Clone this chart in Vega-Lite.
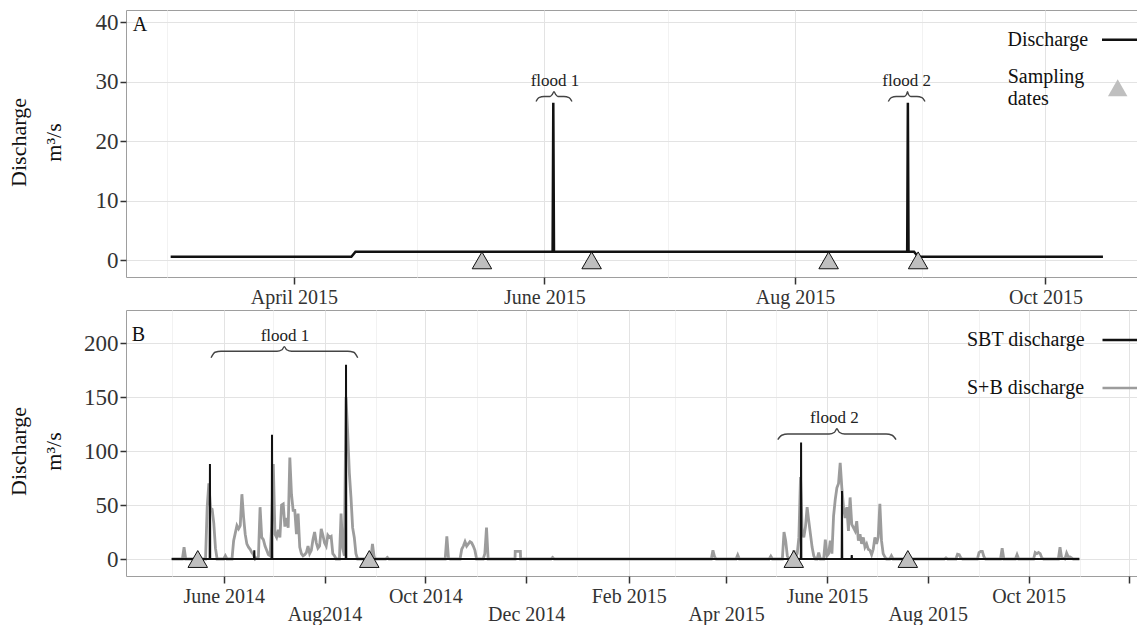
{
  "$schema": "https://vega.github.io/schema/vega-lite/v6.json",
  "background": "white",
  "padding": {"left": 6, "top": 9, "right": 0, "bottom": 0},
  "spacing": 33,
  "bounds": "flush",
  "resolve": {"scale": {"color": "independent", "shape": "independent"}, "legend": {"color": "independent", "shape": "independent"}},
  "config": {
    "font": "Liberation Serif",
    "view": {"stroke": "#9e9e9e", "strokeWidth": 1},
    "axis": {
      "labelFont": "Liberation Serif",
      "labelColor": "#333333",
      "labelFontSize": 20,
      "tickColor": "#333333",
      "tickWidth": 1.5,
      "domain": false,
      "titleFont": "Liberation Serif",
      "titleFontSize": 22,
      "titleFontWeight": "normal",
      "titleColor": "#111111",
      "labelOverlap": false,
      "labelFlush": false,
      "gridWidth": 1
    },
    "legend": {
      "labelFont": "Liberation Serif",
      "labelFontSize": 20,
      "labelColor": "#111111",
      "padding": 0
    }
  },
  "datasets": {
    "dischargeA": [
      {"date": "2015-03-02T00:00", "q": 0.6},
      {"date": "2015-04-15T00:00", "q": 0.6},
      {"date": "2015-04-16T00:00", "q": 1.45},
      {"date": "2015-06-03T00:00", "q": 1.45},
      {"date": "2015-06-03T04:00", "q": 26.5},
      {"date": "2015-06-03T08:00", "q": 1.45},
      {"date": "2015-08-28T08:00", "q": 1.45},
      {"date": "2015-08-28T12:00", "q": 26.5},
      {"date": "2015-08-28T16:00", "q": 1.45},
      {"date": "2015-08-30T00:00", "q": 1.45},
      {"date": "2015-08-31T00:00", "q": 0.6},
      {"date": "2015-10-15T00:00", "q": 0.6}
    ],
    "samplesA": [
      {"date": "2015-05-16T19:00", "q": 0},
      {"date": "2015-06-12T12:00", "q": 0},
      {"date": "2015-08-09T05:00", "q": 0},
      {"date": "2015-08-31T00:00", "q": 0}
    ],
    "bracesA": [
      {"brace": "flood 1", "date": "2015-05-29T23:00", "q": 26.69},
      {"brace": "flood 1", "date": "2015-05-30T16:00", "q": 27.36},
      {"brace": "flood 1", "date": "2015-05-31T22:00", "q": 27.53},
      {"brace": "flood 1", "date": "2015-06-02T09:00", "q": 27.53},
      {"brace": "flood 1", "date": "2015-06-02T22:00", "q": 27.87},
      {"brace": "flood 1", "date": "2015-06-03T08:00", "q": 28.34},
      {"brace": "flood 1", "date": "2015-06-03T18:00", "q": 27.87},
      {"brace": "flood 1", "date": "2015-06-04T07:00", "q": 27.53},
      {"brace": "flood 1", "date": "2015-06-05T18:00", "q": 27.53},
      {"brace": "flood 1", "date": "2015-06-07T00:00", "q": 27.36},
      {"brace": "flood 1", "date": "2015-06-07T17:00", "q": 26.69},
      {"brace": "flood 2", "date": "2015-08-23T17:30", "q": 26.69},
      {"brace": "flood 2", "date": "2015-08-24T11:00", "q": 27.36},
      {"brace": "flood 2", "date": "2015-08-25T16:00", "q": 27.53},
      {"brace": "flood 2", "date": "2015-08-27T14:30", "q": 27.53},
      {"brace": "flood 2", "date": "2015-08-28T04:00", "q": 27.87},
      {"brace": "flood 2", "date": "2015-08-28T10:00", "q": 28.34},
      {"brace": "flood 2", "date": "2015-08-28T15:30", "q": 27.87},
      {"brace": "flood 2", "date": "2015-08-29T05:00", "q": 27.53},
      {"brace": "flood 2", "date": "2015-08-30T17:00", "q": 27.53},
      {"brace": "flood 2", "date": "2015-08-31T22:30", "q": 27.36},
      {"brace": "flood 2", "date": "2015-09-01T16:00", "q": 26.69}
    ],
    "labelsA": [
      {"date": "2015-06-03T14:00", "q": 30.1, "text": "flood 1"},
      {"date": "2015-08-28T05:00", "q": 30.1, "text": "flood 2"}
    ],
    "panelA": [
      {"date": "2015-02-20T18:00", "q": 39.55, "text": "A"}
    ],
    "sbt": [
      {"date": "2014-04-30T12:00", "q": 0},
      {"date": "2014-05-23T12:00", "q": 0},
      {"date": "2014-05-23T16:00", "q": 88},
      {"date": "2014-05-23T20:00", "q": 0},
      {"date": "2014-06-19T08:00", "q": 0},
      {"date": "2014-06-19T12:00", "q": 8},
      {"date": "2014-06-19T16:00", "q": 0},
      {"date": "2014-06-30T01:00", "q": 0},
      {"date": "2014-06-30T05:00", "q": 115},
      {"date": "2014-06-30T09:00", "q": 0},
      {"date": "2014-08-13T20:00", "q": 0},
      {"date": "2014-08-14T00:00", "q": 180},
      {"date": "2014-08-14T04:00", "q": 0},
      {"date": "2015-05-16T04:00", "q": 0},
      {"date": "2015-05-16T08:00", "q": 108},
      {"date": "2015-05-16T12:00", "q": 0},
      {"date": "2015-06-09T22:00", "q": 0},
      {"date": "2015-06-10T02:00", "q": 63},
      {"date": "2015-06-10T06:00", "q": 0},
      {"date": "2015-06-15T20:00", "q": 0},
      {"date": "2015-06-16T00:00", "q": 3.7},
      {"date": "2015-06-16T04:00", "q": 0},
      {"date": "2015-10-31T17:00", "q": 0}
    ],
    "sb": [
      {"date": "2014-04-30T12:00", "q": 0},
      {"date": "2014-05-07T00:00", "q": 0},
      {"date": "2014-05-08T00:00", "q": 11},
      {"date": "2014-05-09T00:00", "q": 0},
      {"date": "2014-05-21T00:00", "q": 0},
      {"date": "2014-05-22T00:00", "q": 48},
      {"date": "2014-05-23T00:00", "q": 70},
      {"date": "2014-05-24T00:00", "q": 47},
      {"date": "2014-05-25T00:00", "q": 46},
      {"date": "2014-05-26T00:00", "q": 33},
      {"date": "2014-05-27T00:00", "q": 10},
      {"date": "2014-05-28T00:00", "q": 0},
      {"date": "2014-06-01T00:00", "q": 0},
      {"date": "2014-06-02T00:00", "q": 3},
      {"date": "2014-06-03T00:00", "q": 0},
      {"date": "2014-06-06T00:00", "q": 0},
      {"date": "2014-06-07T00:00", "q": 17},
      {"date": "2014-06-08T00:00", "q": 24},
      {"date": "2014-06-09T00:00", "q": 31},
      {"date": "2014-06-10T00:00", "q": 28},
      {"date": "2014-06-11T00:00", "q": 31},
      {"date": "2014-06-12T00:00", "q": 60},
      {"date": "2014-06-13T00:00", "q": 39},
      {"date": "2014-06-14T00:00", "q": 23},
      {"date": "2014-06-15T00:00", "q": 14},
      {"date": "2014-06-16T00:00", "q": 11},
      {"date": "2014-06-17T00:00", "q": 9},
      {"date": "2014-06-18T00:00", "q": 6},
      {"date": "2014-06-19T00:00", "q": 4},
      {"date": "2014-06-20T00:00", "q": 0},
      {"date": "2014-06-22T00:00", "q": 2},
      {"date": "2014-06-23T00:00", "q": 48},
      {"date": "2014-06-24T00:00", "q": 20},
      {"date": "2014-06-25T00:00", "q": 18},
      {"date": "2014-06-26T00:00", "q": 12},
      {"date": "2014-06-27T00:00", "q": 8},
      {"date": "2014-06-28T00:00", "q": 4},
      {"date": "2014-06-29T00:00", "q": 3},
      {"date": "2014-06-30T00:00", "q": 30},
      {"date": "2014-07-01T00:00", "q": 88},
      {"date": "2014-07-02T00:00", "q": 23},
      {"date": "2014-07-03T00:00", "q": 20},
      {"date": "2014-07-04T00:00", "q": 27},
      {"date": "2014-07-05T00:00", "q": 20},
      {"date": "2014-07-06T00:00", "q": 50},
      {"date": "2014-07-07T00:00", "q": 51},
      {"date": "2014-07-08T00:00", "q": 30},
      {"date": "2014-07-09T00:00", "q": 38},
      {"date": "2014-07-10T00:00", "q": 29},
      {"date": "2014-07-11T00:00", "q": 94},
      {"date": "2014-07-12T00:00", "q": 60},
      {"date": "2014-07-13T00:00", "q": 45},
      {"date": "2014-07-14T00:00", "q": 45},
      {"date": "2014-07-15T00:00", "q": 23},
      {"date": "2014-07-16T00:00", "q": 42},
      {"date": "2014-07-17T00:00", "q": 11},
      {"date": "2014-07-18T00:00", "q": 5},
      {"date": "2014-07-19T00:00", "q": 3},
      {"date": "2014-07-20T00:00", "q": 4},
      {"date": "2014-07-21T00:00", "q": 6},
      {"date": "2014-07-22T00:00", "q": 12},
      {"date": "2014-07-23T00:00", "q": 5},
      {"date": "2014-07-24T00:00", "q": 8},
      {"date": "2014-07-25T00:00", "q": 18},
      {"date": "2014-07-26T00:00", "q": 25},
      {"date": "2014-07-27T00:00", "q": 15},
      {"date": "2014-07-28T00:00", "q": 10},
      {"date": "2014-07-29T00:00", "q": 12},
      {"date": "2014-07-30T00:00", "q": 28},
      {"date": "2014-07-31T00:00", "q": 22},
      {"date": "2014-08-01T00:00", "q": 15},
      {"date": "2014-08-02T00:00", "q": 12},
      {"date": "2014-08-03T00:00", "q": 22},
      {"date": "2014-08-04T00:00", "q": 20},
      {"date": "2014-08-05T00:00", "q": 21},
      {"date": "2014-08-06T00:00", "q": 5},
      {"date": "2014-08-07T00:00", "q": 3},
      {"date": "2014-08-08T00:00", "q": 0},
      {"date": "2014-08-10T00:00", "q": 0},
      {"date": "2014-08-11T00:00", "q": 42},
      {"date": "2014-08-12T00:00", "q": 10},
      {"date": "2014-08-13T00:00", "q": 3},
      {"date": "2014-08-14T00:00", "q": 150},
      {"date": "2014-08-15T00:00", "q": 117},
      {"date": "2014-08-16T00:00", "q": 80},
      {"date": "2014-08-17T00:00", "q": 57},
      {"date": "2014-08-18T00:00", "q": 29},
      {"date": "2014-08-19T00:00", "q": 20},
      {"date": "2014-08-20T00:00", "q": 5},
      {"date": "2014-08-21T00:00", "q": 0},
      {"date": "2014-08-29T00:00", "q": 0},
      {"date": "2014-08-30T00:00", "q": 14},
      {"date": "2014-08-31T00:00", "q": 2},
      {"date": "2014-09-01T00:00", "q": 0},
      {"date": "2014-09-07T00:00", "q": 0},
      {"date": "2014-09-08T00:00", "q": 1.5},
      {"date": "2014-09-09T00:00", "q": 0},
      {"date": "2014-10-13T00:00", "q": 0},
      {"date": "2014-10-14T00:00", "q": 21},
      {"date": "2014-10-15T00:00", "q": 1},
      {"date": "2014-10-16T00:00", "q": 0},
      {"date": "2014-10-22T00:00", "q": 0},
      {"date": "2014-10-23T00:00", "q": 9},
      {"date": "2014-10-24T00:00", "q": 12},
      {"date": "2014-10-25T00:00", "q": 16},
      {"date": "2014-10-26T00:00", "q": 12},
      {"date": "2014-10-27T00:00", "q": 14},
      {"date": "2014-10-28T00:00", "q": 16},
      {"date": "2014-10-29T00:00", "q": 15},
      {"date": "2014-10-30T00:00", "q": 12},
      {"date": "2014-10-31T00:00", "q": 8},
      {"date": "2014-11-01T00:00", "q": 0},
      {"date": "2014-11-05T00:00", "q": 0},
      {"date": "2014-11-06T00:00", "q": 5},
      {"date": "2014-11-07T00:00", "q": 29},
      {"date": "2014-11-08T00:00", "q": 0},
      {"date": "2014-11-24T06:00", "q": 0},
      {"date": "2014-11-24T09:00", "q": 7},
      {"date": "2014-11-27T12:00", "q": 7},
      {"date": "2014-11-27T15:00", "q": 0},
      {"date": "2014-12-16T00:00", "q": 0},
      {"date": "2014-12-17T00:00", "q": 1.5},
      {"date": "2014-12-18T00:00", "q": 0},
      {"date": "2015-03-23T00:00", "q": 0},
      {"date": "2015-03-24T00:00", "q": 8},
      {"date": "2015-03-25T00:00", "q": 2},
      {"date": "2015-03-26T00:00", "q": 0},
      {"date": "2015-04-07T00:00", "q": 0},
      {"date": "2015-04-08T00:00", "q": 3.7},
      {"date": "2015-04-09T00:00", "q": 0},
      {"date": "2015-04-27T00:00", "q": 0},
      {"date": "2015-04-28T00:00", "q": 2.5},
      {"date": "2015-04-29T00:00", "q": 0},
      {"date": "2015-05-05T00:00", "q": 0},
      {"date": "2015-05-06T00:00", "q": 25},
      {"date": "2015-05-07T00:00", "q": 17},
      {"date": "2015-05-08T00:00", "q": 3},
      {"date": "2015-05-09T00:00", "q": 0},
      {"date": "2015-05-11T00:00", "q": 0},
      {"date": "2015-05-12T00:00", "q": 8},
      {"date": "2015-05-13T00:00", "q": 2},
      {"date": "2015-05-14T00:00", "q": 5},
      {"date": "2015-05-15T00:00", "q": 20},
      {"date": "2015-05-16T00:00", "q": 76},
      {"date": "2015-05-17T00:00", "q": 26},
      {"date": "2015-05-18T00:00", "q": 20},
      {"date": "2015-05-19T00:00", "q": 30},
      {"date": "2015-05-20T00:00", "q": 48},
      {"date": "2015-05-21T00:00", "q": 35},
      {"date": "2015-05-22T00:00", "q": 23},
      {"date": "2015-05-23T00:00", "q": 11},
      {"date": "2015-05-24T00:00", "q": 3},
      {"date": "2015-05-25T00:00", "q": 0},
      {"date": "2015-05-26T00:00", "q": 0},
      {"date": "2015-05-27T00:00", "q": 6},
      {"date": "2015-05-28T00:00", "q": 0},
      {"date": "2015-05-30T00:00", "q": 0},
      {"date": "2015-05-31T00:00", "q": 18},
      {"date": "2015-06-01T00:00", "q": 3},
      {"date": "2015-06-02T00:00", "q": 5},
      {"date": "2015-06-03T00:00", "q": 17},
      {"date": "2015-06-04T00:00", "q": 5},
      {"date": "2015-06-05T00:00", "q": 40},
      {"date": "2015-06-06T00:00", "q": 55},
      {"date": "2015-06-07T00:00", "q": 66},
      {"date": "2015-06-08T00:00", "q": 70},
      {"date": "2015-06-09T00:00", "q": 89},
      {"date": "2015-06-10T00:00", "q": 66},
      {"date": "2015-06-11T00:00", "q": 48},
      {"date": "2015-06-12T00:00", "q": 38},
      {"date": "2015-06-13T00:00", "q": 48},
      {"date": "2015-06-14T00:00", "q": 26},
      {"date": "2015-06-15T00:00", "q": 57},
      {"date": "2015-06-16T00:00", "q": 32},
      {"date": "2015-06-17T00:00", "q": 29},
      {"date": "2015-06-18T00:00", "q": 26},
      {"date": "2015-06-19T00:00", "q": 35},
      {"date": "2015-06-20T00:00", "q": 17},
      {"date": "2015-06-21T00:00", "q": 23},
      {"date": "2015-06-22T00:00", "q": 14},
      {"date": "2015-06-23T00:00", "q": 20},
      {"date": "2015-06-24T00:00", "q": 11},
      {"date": "2015-06-25T00:00", "q": 14},
      {"date": "2015-06-26T00:00", "q": 9},
      {"date": "2015-06-27T00:00", "q": 8},
      {"date": "2015-06-28T00:00", "q": 4},
      {"date": "2015-06-29T00:00", "q": 9},
      {"date": "2015-06-30T00:00", "q": 20},
      {"date": "2015-07-01T00:00", "q": 14},
      {"date": "2015-07-02T00:00", "q": 20},
      {"date": "2015-07-03T00:00", "q": 51},
      {"date": "2015-07-04T00:00", "q": 17},
      {"date": "2015-07-05T00:00", "q": 5},
      {"date": "2015-07-06T00:00", "q": 2},
      {"date": "2015-07-07T00:00", "q": 0},
      {"date": "2015-07-09T00:00", "q": 0},
      {"date": "2015-07-10T00:00", "q": 3},
      {"date": "2015-07-11T00:00", "q": 0},
      {"date": "2015-08-11T00:00", "q": 0},
      {"date": "2015-08-12T00:00", "q": 1},
      {"date": "2015-08-13T00:00", "q": 0},
      {"date": "2015-08-18T00:00", "q": 0},
      {"date": "2015-08-19T00:00", "q": 4.5},
      {"date": "2015-08-20T00:00", "q": 4},
      {"date": "2015-08-21T00:00", "q": 1},
      {"date": "2015-08-22T00:00", "q": 0},
      {"date": "2015-08-31T00:00", "q": 0},
      {"date": "2015-09-01T00:00", "q": 6},
      {"date": "2015-09-02T00:00", "q": 7},
      {"date": "2015-09-03T00:00", "q": 7},
      {"date": "2015-09-04T00:00", "q": 2},
      {"date": "2015-09-05T00:00", "q": 0},
      {"date": "2015-09-14T00:00", "q": 0},
      {"date": "2015-09-15T00:00", "q": 10},
      {"date": "2015-09-16T00:00", "q": 0},
      {"date": "2015-09-23T00:00", "q": 0},
      {"date": "2015-09-24T00:00", "q": 4},
      {"date": "2015-09-25T00:00", "q": 0},
      {"date": "2015-10-04T00:00", "q": 0},
      {"date": "2015-10-05T00:00", "q": 6},
      {"date": "2015-10-06T00:00", "q": 5},
      {"date": "2015-10-07T00:00", "q": 6},
      {"date": "2015-10-08T00:00", "q": 5},
      {"date": "2015-10-09T00:00", "q": 1},
      {"date": "2015-10-10T00:00", "q": 0},
      {"date": "2015-10-19T00:00", "q": 0},
      {"date": "2015-10-20T00:00", "q": 11},
      {"date": "2015-10-21T00:00", "q": 1},
      {"date": "2015-10-23T00:00", "q": 0},
      {"date": "2015-10-24T00:00", "q": 5.5},
      {"date": "2015-10-25T00:00", "q": 2},
      {"date": "2015-10-26T00:00", "q": 2},
      {"date": "2015-10-27T00:00", "q": 1},
      {"date": "2015-10-28T00:00", "q": 0},
      {"date": "2015-10-31T17:00", "q": 0}
    ],
    "samplesB": [
      {"date": "2014-05-16T07:00", "q": 0},
      {"date": "2014-08-28T02:00", "q": 0},
      {"date": "2015-05-11T22:00", "q": 0},
      {"date": "2015-07-19T22:00", "q": 0}
    ],
    "bracesB": [
      {"brace": "flood 1", "date": "2014-05-24T08:00", "q": 186.4},
      {"brace": "flood 1", "date": "2014-05-26T18:00", "q": 191.5},
      {"brace": "flood 1", "date": "2014-05-30T09:00", "q": 192.4},
      {"brace": "flood 1", "date": "2014-07-03T06:00", "q": 192.4},
      {"brace": "flood 1", "date": "2014-07-06T07:00", "q": 193.8},
      {"brace": "flood 1", "date": "2014-07-07T16:00", "q": 196.6},
      {"brace": "flood 1", "date": "2014-07-09T01:00", "q": 193.8},
      {"brace": "flood 1", "date": "2014-07-12T02:00", "q": 192.4},
      {"brace": "flood 1", "date": "2014-08-15T01:00", "q": 192.4},
      {"brace": "flood 1", "date": "2014-08-18T16:00", "q": 191.5},
      {"brace": "flood 1", "date": "2014-08-21T02:00", "q": 186.4},
      {"brace": "flood 2", "date": "2015-05-02T05:30", "q": 110.5},
      {"brace": "flood 2", "date": "2015-05-04T15:30", "q": 114.6},
      {"brace": "flood 2", "date": "2015-05-08T07:00", "q": 115.7},
      {"brace": "flood 2", "date": "2015-06-02T06:30", "q": 115.7},
      {"brace": "flood 2", "date": "2015-06-05T14:00", "q": 117.4},
      {"brace": "flood 2", "date": "2015-06-07T00:00", "q": 120.6},
      {"brace": "flood 2", "date": "2015-06-08T10:00", "q": 117.4},
      {"brace": "flood 2", "date": "2015-06-11T17:00", "q": 115.7},
      {"brace": "flood 2", "date": "2015-07-06T19:00", "q": 115.7},
      {"brace": "flood 2", "date": "2015-07-10T10:00", "q": 114.6},
      {"brace": "flood 2", "date": "2015-07-12T19:00", "q": 110.5}
    ],
    "labelsB": [
      {"date": "2014-07-08T02:00", "q": 206.8, "text": "flood 1"},
      {"date": "2015-06-05T12:00", "q": 130.8, "text": "flood 2"}
    ],
    "panelB": [
      {"date": "2014-04-06T08:00", "q": 207.7, "text": "B"}
    ]
  },
  "vconcat": [
    {
      "width": 1011,
      "height": 267,
      "layer": [
        {
          "data": {"name": "dischargeA"},
          "mark": {"type": "line", "strokeWidth": 2.5},
          "encoding": {
            "x": {
              "field": "date",
              "type": "temporal",
              "scale": {"domain": [{"year": 2015, "month": 2, "date": 19, "hours": 3}, {"year": 2015, "month": 10, "date": 23, "hours": 7}]},
              "axis": {
                "title": null,
                "values": [
                  {"year": 2015, "month": 3, "date": 1},
                  {"year": 2015, "month": 4, "date": 1},
                  {"year": 2015, "month": 5, "date": 1},
                  {"year": 2015, "month": 6, "date": 1},
                  {"year": 2015, "month": 7, "date": 1},
                  {"year": 2015, "month": 8, "date": 1},
                  {"year": 2015, "month": 9, "date": 1},
                  {"year": 2015, "month": 10, "date": 1}
                ],
                "labelExpr": "month(datum.value) == 3 ? 'April 2015' : month(datum.value) == 5 ? 'June 2015' : month(datum.value) == 7 ? 'Aug 2015' : month(datum.value) == 9 ? 'Oct 2015' : ''",
                "tickSize": 7,
                "labelPadding": 3,
                "tickOpacity": {"condition": {"test": "month(datum.value) % 2 == 1", "value": 1}, "value": 0},
                "gridColor": {"condition": {"test": "month(datum.value) % 2 == 1", "value": "#e3e3e3"}, "value": "#f2f2f2"}
              }
            },
            "y": {
              "field": "q",
              "type": "quantitative",
              "scale": {"domain": [-2.8, 42.07], "nice": false, "zero": false},
              "axis": {
                "values": [0, 5, 10, 15, 20, 25, 30, 35, 40],
                "labelExpr": "datum.value % 10 == 0 ? datum.label : ''",
                "labelFontSize": 23,
                "tickSize": 6,
                "labelPadding": 2,
                "tickOpacity": {"condition": {"test": "datum.value % 10 == 0", "value": 1}, "value": 0},
                "gridColor": {"condition": {"test": "datum.value % 10 == 0", "value": "#e3e3e3"}, "value": "#f2f2f2"},
                "title": ["Discharge", "m³/s"],
                "titleAngle": 270,
                "titleX": -108,
                "titleY": 132,
                "titleAlign": "center",
                "titleBaseline": "middle",
                "titleLineHeight": 35
              }
            },
            "color": {
              "datum": "Discharge",
              "scale": {"domain": ["Discharge"], "range": ["#111111"]},
              "legend": {
                "title": null,
                "orient": "none",
                "legendX": 974.5,
                "legendY": 10.7,
                "symbolType": "stroke",
                "symbolSize": 1225,
                "symbolStrokeWidth": 2.5,
                "labelAlign": "left",
                "labelOffset": -131
              }
            }
          }
        },
        {
          "data": {"name": "bracesA"},
          "mark": {"type": "line", "interpolate": "monotone", "stroke": "#444444", "strokeWidth": 1.4},
          "encoding": {
            "x": {"field": "date", "type": "temporal"},
            "y": {"field": "q", "type": "quantitative"},
            "detail": {"field": "brace"}
          }
        },
        {
          "data": {"name": "labelsA"},
          "mark": {"type": "text", "font": "Liberation Serif", "fontSize": 17, "color": "#222222", "baseline": "middle", "align": "center"},
          "encoding": {
            "x": {"field": "date", "type": "temporal"},
            "y": {"field": "q", "type": "quantitative"},
            "text": {"field": "text"}
          }
        },
        {
          "data": {"name": "panelA"},
          "mark": {"type": "text", "font": "Liberation Serif", "fontSize": 20, "color": "#111111", "baseline": "middle", "align": "left"},
          "encoding": {
            "x": {"field": "date", "type": "temporal"},
            "y": {"field": "q", "type": "quantitative"},
            "text": {"field": "text"}
          }
        },
        {
          "data": {"name": "samplesA"},
          "mark": {"type": "point", "filled": false, "size": 380, "fill": "#bfbfbf", "fillOpacity": 1, "stroke": "#111111", "strokeWidth": 1, "opacity": 1},
          "encoding": {
            "x": {"field": "date", "type": "temporal"},
            "y": {"field": "q", "type": "quantitative"},
            "shape": {
              "datum": "Sampling dates",
              "scale": {"domain": ["Sampling dates"], "range": ["triangle-up"]},
              "legend": {
                "title": null,
                "orient": "none",
                "legendX": 981.2,
                "legendY": 67.2,
                "symbolSize": 380,
                "symbolStrokeWidth": 1.2,
                "symbolFillColor": "#bfbfbf",
                "symbolStrokeColor": "#111111",
                "symbolOpacity": 1,
                "labelAlign": "left",
                "labelBaseline": "line-bottom",
                "labelOffset": -120.5,
                "labelExpr": "['Sampling', 'dates']"
              }
            }
          }
        }
      ]
    },
    {
      "width": 1011,
      "height": 266,
      "layer": [
        {
          "data": {"name": "sb"},
          "mark": {"type": "line", "strokeWidth": 2.8},
          "encoding": {
            "x": {
              "field": "date",
              "type": "temporal",
              "scale": {"domain": [{"year": 2014, "month": 4, "date": 2, "hours": 21}, {"year": 2015, "month": 12, "date": 5, "hours": 14}]},
              "axis": {
                "title": null,
                "values": [
                  {"year": 2014, "month": 5, "date": 1},
                  {"year": 2014, "month": 6, "date": 1},
                  {"year": 2014, "month": 7, "date": 1},
                  {"year": 2014, "month": 8, "date": 1},
                  {"year": 2014, "month": 9, "date": 1},
                  {"year": 2014, "month": 10, "date": 1},
                  {"year": 2014, "month": 11, "date": 1},
                  {"year": 2014, "month": 12, "date": 1},
                  {"year": 2015, "month": 1, "date": 1},
                  {"year": 2015, "month": 2, "date": 1},
                  {"year": 2015, "month": 3, "date": 1},
                  {"year": 2015, "month": 4, "date": 1},
                  {"year": 2015, "month": 5, "date": 1},
                  {"year": 2015, "month": 6, "date": 1},
                  {"year": 2015, "month": 7, "date": 1},
                  {"year": 2015, "month": 8, "date": 1},
                  {"year": 2015, "month": 9, "date": 1},
                  {"year": 2015, "month": 10, "date": 1},
                  {"year": 2015, "month": 11, "date": 1},
                  {"year": 2015, "month": 12, "date": 1}
                ],
                "labelExpr": "timeFormat(datum.value, '%Y%m') == '201406' ? 'June 2014' : timeFormat(datum.value, '%Y%m') == '201408' ? ['', 'Aug2014'] : timeFormat(datum.value, '%Y%m') == '201410' ? 'Oct 2014' : timeFormat(datum.value, '%Y%m') == '201412' ? ['', 'Dec 2014'] : timeFormat(datum.value, '%Y%m') == '201502' ? 'Feb 2015' : timeFormat(datum.value, '%Y%m') == '201504' ? ['', 'Apr 2015'] : timeFormat(datum.value, '%Y%m') == '201506' ? 'June 2015' : timeFormat(datum.value, '%Y%m') == '201508' ? ['', 'Aug 2015'] : timeFormat(datum.value, '%Y%m') == '201510' ? 'Oct 2015' : ''",
                "labelLineHeight": 18,
                "tickSize": 7,
                "labelPadding": 3,
                "tickOpacity": {"condition": {"test": "month(datum.value) % 2 == 1", "value": 1}, "value": 0},
                "gridColor": {"condition": {"test": "month(datum.value) % 2 == 1", "value": "#e3e3e3"}, "value": "#f2f2f2"}
              }
            },
            "y": {
              "field": "q",
              "type": "quantitative",
              "scale": {"domain": [-15.74, 230.6], "nice": false, "zero": false},
              "axis": {
                "values": [0, 25, 50, 75, 100, 125, 150, 175, 200, 225],
                "labelExpr": "datum.value % 50 == 0 ? datum.label : ''",
                "labelFontSize": 23,
                "tickSize": 6,
                "labelPadding": 2,
                "tickOpacity": {"condition": {"test": "datum.value % 50 == 0", "value": 1}, "value": 0},
                "gridColor": {"condition": {"test": "datum.value % 50 == 0", "value": "#e3e3e3"}, "value": "#f2f2f2"},
                "title": ["Discharge", "m³/s"],
                "titleAngle": 270,
                "titleX": -108,
                "titleY": 141,
                "titleAlign": "center",
                "titleBaseline": "middle",
                "titleLineHeight": 35
              }
            },
            "color": {
              "datum": "S+B discharge",
              "scale": {"domain": ["SBT discharge", "S+B discharge"], "range": ["#111111", "#9c9c9c"]},
              "legend": {
                "title": null,
                "orient": "none",
                "legendX": 975,
                "legendY": 11,
                "symbolType": "stroke",
                "symbolSize": 1225,
                "symbolStrokeWidth": 2.5,
                "labelAlign": "left",
                "labelOffset": -172,
                "rowPadding": 19
              }
            }
          }
        },
        {
          "data": {"name": "sbt"},
          "mark": {"type": "line", "strokeWidth": 2},
          "encoding": {
            "x": {"field": "date", "type": "temporal"},
            "y": {"field": "q", "type": "quantitative"},
            "color": {"datum": "SBT discharge"}
          }
        },
        {
          "data": {"name": "bracesB"},
          "mark": {"type": "line", "interpolate": "monotone", "stroke": "#444444", "strokeWidth": 1.4},
          "encoding": {
            "x": {"field": "date", "type": "temporal"},
            "y": {"field": "q", "type": "quantitative"},
            "detail": {"field": "brace"}
          }
        },
        {
          "data": {"name": "labelsB"},
          "mark": {"type": "text", "font": "Liberation Serif", "fontSize": 17, "color": "#222222", "baseline": "middle", "align": "center"},
          "encoding": {
            "x": {"field": "date", "type": "temporal"},
            "y": {"field": "q", "type": "quantitative"},
            "text": {"field": "text"}
          }
        },
        {
          "data": {"name": "panelB"},
          "mark": {"type": "text", "font": "Liberation Serif", "fontSize": 20, "color": "#111111", "baseline": "middle", "align": "left"},
          "encoding": {
            "x": {"field": "date", "type": "temporal"},
            "y": {"field": "q", "type": "quantitative"},
            "text": {"field": "text"}
          }
        },
        {
          "data": {"name": "samplesB"},
          "mark": {"type": "point", "shape": "triangle-up", "filled": true, "size": 380, "fill": "#bfbfbf", "stroke": "#111111", "strokeWidth": 1, "opacity": 1},
          "encoding": {
            "x": {"field": "date", "type": "temporal"},
            "y": {"field": "q", "type": "quantitative"}
          }
        }
      ]
    }
  ]
}
